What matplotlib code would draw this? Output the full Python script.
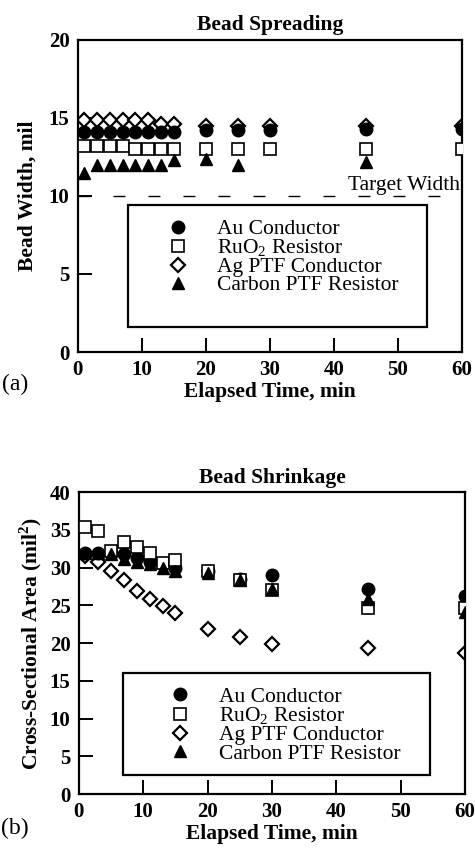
import matplotlib
matplotlib.use("Agg")
import matplotlib.pyplot as plt
from matplotlib.patches import Rectangle

plt.rcParams['font.family'] = ['Liberation Serif', 'DejaVu Serif']
plt.rcParams['mathtext.fontset'] = 'custom'
plt.rcParams['mathtext.rm'] = 'Liberation Serif'
plt.rcParams['mathtext.bf'] = 'Liberation Serif:bold'

# elapsed time (min)
t = [1, 3, 5, 7, 9, 11, 13, 15, 20, 25, 30, 45, 60]
t_carbon_a = [1, 3, 5, 7, 9, 11, 13, 15, 20, 25, 45]

# (a) bead width, mil
au_width = [14.1, 14.1, 14.1, 14.1, 14.1, 14.1, 14.1, 14.1, 14.2, 14.2, 14.2, 14.3, 14.3]
ruo2_width = [13.2, 13.2, 13.2, 13.2, 13.0, 13.0, 13.0, 13.0, 13.0, 13.0, 13.0, 13.0, 13.0]
ag_width = [14.9, 14.9, 14.9, 14.9, 14.9, 14.9, 14.6, 14.6, 14.5, 14.5, 14.5, 14.5, 14.5]
carbon_width = [11.5, 12.0, 12.0, 12.0, 12.0, 12.0, 12.0, 12.3, 12.4, 12.0, 12.2]
target_width = 10

# (b) cross-sectional area, mil^2
au_area = [32.0, 32.0, 32.0, 31.8, 31.3, 30.8, 30.5, 30.0, 29.5, 28.5, 29.0, 27.2, 26.3]
ruo2_area = [35.4, 34.9, 32.2, 33.4, 32.7, 31.9, 30.6, 31.0, 29.6, 28.4, 27.0, 24.6, 24.7]
ag_area = [31.5, 30.7, 29.6, 28.4, 26.9, 25.8, 24.9, 24.0, 21.9, 20.8, 19.9, 19.3, 18.7]
carbon_area = [32.0, 32.0, 31.8, 31.2, 30.8, 30.5, 30.0, 29.6, 29.3, 28.4, 27.2, 25.8, 24.1]

labels = ['Au Conductor', 'RuO$_2$ Resistor', 'Ag PTF Conductor', 'Carbon PTF Resistor']

FS = 15.5
TICK_FS = 15

fig = plt.figure(figsize=(4.75, 8.55), dpi=100)
ax1 = fig.add_axes([0.164, 0.5883, 0.808, 0.365])
ax2 = fig.add_axes([0.166, 0.0713, 0.813, 0.353])


def style_axis(ax):
    for s in ax.spines.values():
        s.set_linewidth(1.6)
    ax.tick_params(which='major', direction='in', length=10, width=1.4,
                   labelsize=TICK_FS, pad=6)
    for lab in ax.get_xticklabels() + ax.get_yticklabels():
        lab.set_fontweight('bold')
    ax.set_xlim(0, 60)
    ax.set_xticks([0, 10, 20, 30, 40, 50, 60])
    ax.set_xlabel('Elapsed Time, min', fontsize=FS, fontweight='bold', labelpad=1)


def draw_series(ax, xs, ys, i):
    ms = 9
    if i == 0:
        ax.plot(xs, ys, 'o', color='black', ms=ms, zorder=3, label=labels[0])
    elif i == 1:
        ax.plot(xs, ys, 's', mfc='white', mec='black', mew=1.2, ms=ms, zorder=4, label=labels[1])
    elif i == 2:
        ax.plot(xs, ys, 'D', mfc='white', mec='black', mew=1.6, ms=7, zorder=2, label=labels[2])
    else:
        ax.plot(xs, ys, '^', color='black', ms=ms, zorder=5, label=labels[3])


def add_legend(ax, box, anchor, spacing):
    # box drawn separately so the entries can sit tight at the top
    x0, y0, x1, y1 = box
    ax.add_patch(Rectangle((x0, y0), x1 - x0, y1 - y0, transform=ax.transAxes,
                           facecolor='white', edgecolor='black', lw=1.6,
                           zorder=9))
    h, l = ax.get_legend_handles_labels()
    order = [l.index(x) for x in labels]
    leg = ax.legend([h[k] for k in order], [l[k] for k in order],
                    loc='upper left', bbox_to_anchor=anchor,
                    borderaxespad=0, fontsize=FS, frameon=False,
                    labelspacing=spacing, borderpad=0, handlelength=3.4,
                    handletextpad=0.1)
    leg.set_zorder(10)
    return leg


# panel (a)
draw_series(ax1, t, ag_width, 2)
draw_series(ax1, t, au_width, 0)
draw_series(ax1, t, ruo2_width, 1)
draw_series(ax1, t_carbon_a, carbon_width, 3)
ax1.plot([0, 60], [target_width, target_width], color='black', lw=1,
         dashes=(8.6, 16.6), zorder=1)
ax1.text(59.8, target_width + 0.05, 'Target Width', fontsize=FS,
         ha='right', va='bottom')
ax1.set_ylim(0, 20)
ax1.set_yticks([0, 5, 10, 15, 20])
ax1.set_ylabel('Bead Width, mil', fontsize=FS, fontweight='bold', labelpad=8)
ax1.set_title('Bead Spreading', fontsize=FS, fontweight='bold', pad=7)
style_axis(ax1)
add_legend(ax1, (0.130, 0.080, 0.909, 0.471), (0.1667, 0.425), -0.09)

# panel (b)
draw_series(ax2, t, ag_area, 2)
draw_series(ax2, t, au_area, 0)
draw_series(ax2, t, ruo2_area, 1)
draw_series(ax2, t, carbon_area, 3)
ax2.set_ylim(0, 40)
ax2.set_yticks(range(0, 45, 5))
ax2.set_ylabel(r'Cross-Sectional Area (mil$^\mathbf{2}$)', fontsize=FS,
               fontweight='bold', labelpad=4)
ax2.set_title('Bead Shrinkage', fontsize=FS, fontweight='bold', pad=7)
style_axis(ax2)
add_legend(ax2, (0.114, 0.063, 0.909, 0.401), (0.168, 0.355), -0.08)

fig.text(0.005, 1 - 384 / 855, '(a)', fontsize=17, ha='left', va='center')
fig.text(0.002, 1 - 828 / 855, '(b)', fontsize=17, ha='left', va='center')

fig.savefig('out.png', dpi=100)
